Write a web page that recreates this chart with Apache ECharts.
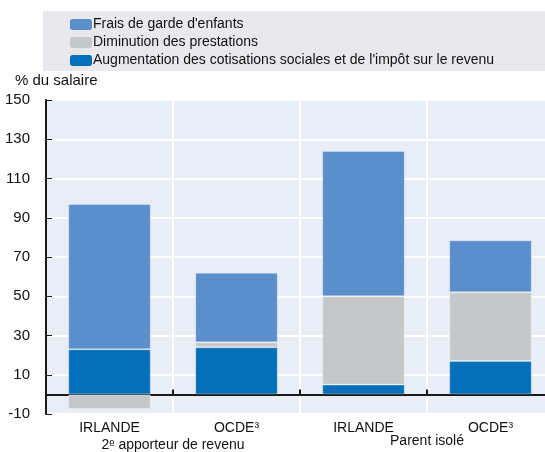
<!DOCTYPE html>
<html><head><meta charset="utf-8">
<script src="https://cdn.jsdelivr.net/npm/echarts@6/dist/echarts.min.js"></script>
<style>html,body{margin:0;padding:0;background:#fff}#c{width:545px;height:452px}</style>
</head><body><div id="c"></div>
<script>
const categories = ['IRLANDE', 'OCDE³', 'IRLANDE', 'OCDE³'];
const groupLabels = ['2ᵉ apporteur de revenu', 'Parent isolé'];
const taxes = [23, 24, 5, 17];
const benefits = [-7.5, 2.5, 45, 35];
const childcare = [74, 35.5, 74, 26.5];
const seriesNames = ['Frais de garde d\'enfants', 'Diminution des prestations', 'Augmentation des cotisations sociales et de l\'impôt sur le revenu'];
const yTicks = {min: -10, max: 150, interval: 20};

const FONT = 'Liberation Sans, Arial, sans-serif';
const edge = {borderColor: 'rgba(255,255,255,0.3)', borderWidth: 1};
const chart = echarts.init(document.getElementById('c'));
chart.setOption({
  animation: false,
  textStyle: {fontFamily: FONT},
  grid: {left: 46, top: 100, width: 508, height: 314, show: true, backgroundColor: '#e9eef6', borderWidth: 0, outerBoundsMode: 'none', containLabel: false},
  legend: {
    orient: 'vertical', left: 65, top: 12, itemWidth: 22, itemHeight: 11, itemGap: 3,
    data: [seriesNames[0], seriesNames[1], seriesNames[2]],
    textStyle: {fontFamily: FONT, fontSize: 14, lineHeight: 15, color: '#111', padding: [0,0,0,-4]},
    itemStyle: {borderWidth: 0},
    selectedMode: false
  },
  graphic: [
    {type: 'rect', shape: {x: 43, y: 11, width: 510, height: 60}, style: {fill: '#e9e9ed'}, z: -10},
    {type: 'text', x: 15, y: 81, style: {text: '% du salaire', font: '15px ' + FONT, fill: '#111', textVerticalAlign: 'middle'}},
    {type: 'text', x: 173, y: 445, style: {text: groupLabels[0], textAlign: 'center', textVerticalAlign: 'middle', font: '14px ' + FONT, fill: '#111'}},
    {type: 'text', x: 427, y: 441, style: {text: groupLabels[1], textAlign: 'center', textVerticalAlign: 'middle', font: '14px ' + FONT, fill: '#111'}}
  ],
  xAxis: {
    type: 'category', data: categories,
    axisLine: {onZero: true, lineStyle: {color: '#1a1a1a', width: 2}},
    axisTick: {show: true, inside: true, length: 5, lineStyle: {color: '#1a1a1a', width: 2}},
    splitLine: {show: true, lineStyle: {color: '#fff', width: 2}},
    axisLabel: {color: '#111', fontSize: 14, fontFamily: FONT, margin: 7}
  },
  yAxis: {
    type: 'value', min: yTicks.min, max: yTicks.max, interval: yTicks.interval,
    axisLine: {show: true, lineStyle: {color: '#1a1a1a', width: 2}},
    axisTick: {show: true, inside: true, length: 6, lineStyle: {color: '#1a1a1a', width: 1}},
    splitLine: {show: true, lineStyle: {color: '#fff', width: 2}},
    axisLabel: {color: '#111', fontSize: 15, fontFamily: FONT, margin: 16}
  },
  series: [
    {name: seriesNames[2], type: 'bar', stack: 's', data: taxes, barWidth: '65%', itemStyle: Object.assign({color: '#0570b9'}, edge)},
    {name: seriesNames[1], type: 'bar', stack: 's', data: benefits, itemStyle: Object.assign({color: '#c6c7c9'}, edge)},
    {name: seriesNames[0], type: 'bar', stack: 's', data: childcare, itemStyle: Object.assign({color: '#5b8fcc'}, edge)}
  ]
});
</script></body></html>
